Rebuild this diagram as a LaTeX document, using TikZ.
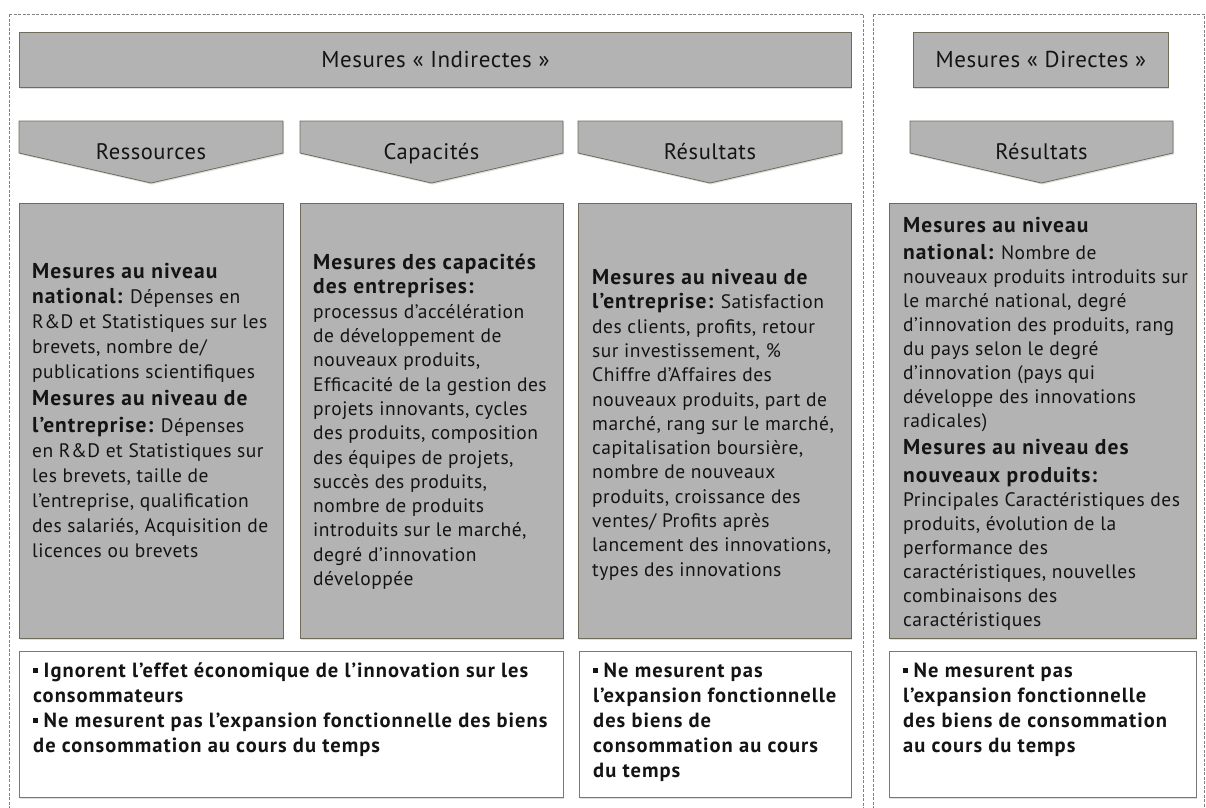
\documentclass[tikz,border=0pt]{standalone}
\usepackage{fontspec}
\setmainfont{PT Sans}[LetterSpace=2.5, BoldFeatures={LetterSpace=5}]
\usetikzlibrary{shadows}
\definecolor{boxgray}{RGB}{179,179,179}
\definecolor{boxedge}{RGB}{112,108,92}
\definecolor{dashgray}{RGB}{130,130,130}
\definecolor{whiteedge}{RGB}{120,120,120}
\definecolor{txt}{RGB}{20,20,20}
\newcommand\myHd{\fontsize{21.5}{25}\selectfont\bfseries}
\newcommand\myBot{\fontsize{20.5}{25}\selectfont\bfseries}
\newcommand\myBul{\rule[5pt]{4.5pt}{4.5pt}\hspace{6pt}}
\tikzset{
  panel/.style={draw=dashgray, line width=0.6pt, dash pattern=on 3pt off 1.5pt},
  shade/.style={drop shadow={opacity=0.25, shadow xshift=1pt, shadow yshift=-1.5pt}},
  banner/.style={draw=boxedge, fill=boxgray, line width=0.8pt, shade, anchor=north west,
    inner sep=0pt, font=\fontsize{23}{26}\selectfont, text=txt},
  chev/.style={draw=boxedge, fill=boxgray, line width=0.8pt, shade},
  chevtext/.style={anchor=base, inner sep=0pt, font=\fontsize{22.5}{25}\selectfont, text=txt},
  graybox/.style={draw=boxedge, fill=boxgray, line width=0.8pt, shade, anchor=north west,
    minimum height=435pt, inner sep=0pt},
  graytext/.style={anchor=north west, inner sep=0pt, align=left, text=txt},
  whitebox/.style={draw=whiteedge, fill=white, line width=0.8pt, shade, anchor=north west,
    minimum height=146pt, inner sep=0pt},
  bottext/.style={anchor=north west, inner sep=0pt, align=left, font=\myBot, text=txt},
}
\begin{document}
\begin{tikzpicture}[x=1pt, y=-1pt]
\useasboundingbox (0,0) rectangle (1206,807);
\fill[white] (0,0) rectangle (1206,807);

% dashed panels
\draw[panel] (9,14) -- (863,14) -- (863,812) (9,14) -- (9,812);
\draw[panel] (873,14) -- (1204,14) -- (1204,812) (873,14) -- (873,812);

% banners
\node[banner, minimum width=832pt, minimum height=55pt] (bInd) at (19,32) {Mesures « Indirectes »};
\node[banner, minimum width=255pt, minimum height=55pt] (bDir) at (913,32) {Mesures « Directes »};

% chevrons
\draw[chev] (19,121) -- (283,121) -- (283,153) -- (151,183) -- (19,153) -- cycle;
\node[chevtext] (cRes) at (151,159) {Ressources};
\draw[chev] (300,121) -- (563,121) -- (563,153) -- (431.5,183) -- (300,153) -- cycle;
\node[chevtext] (cCap) at (431.5,159) {Capacités};
\draw[chev] (578,121) -- (842,121) -- (842,153) -- (710,183) -- (578,153) -- cycle;
\node[chevtext] (cRsl) at (710,159) {Résultats};
\draw[chev] (910,121) -- (1173,121) -- (1173,153) -- (1041.5,183) -- (910,153) -- cycle;
\node[chevtext] (cDir) at (1041.5,159) {Résultats};

% gray boxes
\node[graybox, minimum width=264pt] (g1) at (19,203) {};
\node[graytext, font=\fontsize{19.5}{25}\selectfont] (g1t) at ([xshift=13pt, yshift=-60pt]g1.north west) {%
{\myHd Mesures au niveau}\\
{\myHd national:} Dépenses en\\
R\&D et Statistiques sur les\\
brevets, nombre de/\\
publications scientifiques\\[2pt]
{\myHd Mesures au niveau de}\\[2pt]
{\myHd l’entreprise:} Dépenses\\
en R\&D et Statistiques sur\\
les brevets, taille de\\
l’entreprise, qualification\\
des salariés, Acquisition de\\
licences ou brevets};

\node[graybox, minimum width=263pt] (g2) at (300,203) {};
\node[graytext, font=\fontsize{19.5}{24.3}\selectfont] (g2t) at ([xshift=13pt, yshift=-51pt]g2.north west) {%
{\myHd Mesures des capacités}\\
{\myHd des entreprises:}\\
processus d’accélération\\
de développement de\\
nouveaux produits,\\
Efficacité de la gestion des\\
projets innovants, cycles\\
des produits, composition\\
des équipes de projets,\\
succès des produits,\\
nombre de produits\\
introduits sur le marché,\\
degré d’innovation\\
développée};

\node[graybox, minimum width=273pt] (g3) at (578,203) {};
\node[graytext, font=\fontsize{19.5}{24.3}\selectfont] (g3t) at ([xshift=14pt, yshift=-66pt]g3.north west) {%
{\myHd Mesures au niveau de}\\
{\myHd l’entreprise:} Satisfaction\\
des clients, profits, retour\\
sur investissement, \%\\
Chiffre d’Affaires des\\
nouveaux produits, part de\\
marché, rang sur le marché,\\
capitalisation boursière,\\
nombre de nouveaux\\
produits, croissance des\\
ventes/ Profits après\\
lancement des innovations,\\
types des innovations};

\node[graybox, minimum width=307pt] (g4) at (889,203) {};
\node[graytext, font=\fontsize{19.5}{24}\selectfont] (g4t) at ([xshift=14pt, yshift=-14pt]g4.north west) {%
{\myHd Mesures au niveau}\\[3pt]
{\myHd national:} Nombre de\\
nouveaux produits introduits sur\\
le marché national, degré\\
d’innovation des produits, rang\\
du pays selon le degré\\
d’innovation (pays qui\\
développe des innovations\\
radicales)\\[3pt]
{\myHd Mesures au niveau des}\\[4pt]
{\myHd nouveaux produits:}\\
Principales Caractéristiques des\\
produits, évolution de la\\
performance des\\
caractéristiques, nouvelles\\
combinaisons des\\
caractéristiques};

% white boxes
\node[whitebox, minimum width=544pt] (w1) at (19,651) {};
\node[bottext] (w1t) at ([xshift=14pt, yshift=-12pt]w1.north west) {%
\myBul Ignorent l’effet économique de l’innovation sur les\\
consommateurs\\
\myBul Ne mesurent pas l’expansion fonctionnelle des biens\\
de consommation au cours du temps};

\node[whitebox, minimum width=272pt] (w2) at (579,651) {};
\node[bottext] (w2t) at ([xshift=14pt, yshift=-12pt]w2.north west) {%
\myBul Ne mesurent pas\\
l’expansion fonctionnelle\\
des biens de\\
consommation au cours\\
du temps};

\node[whitebox, minimum width=307pt] (w3) at (889,651) {};
\node[bottext] (w3t) at ([xshift=14pt, yshift=-12pt]w3.north west) {%
\myBul Ne mesurent pas\\
l’expansion fonctionnelle\\
des biens de consommation\\
au cours du temps};
\end{tikzpicture}
\end{document}
